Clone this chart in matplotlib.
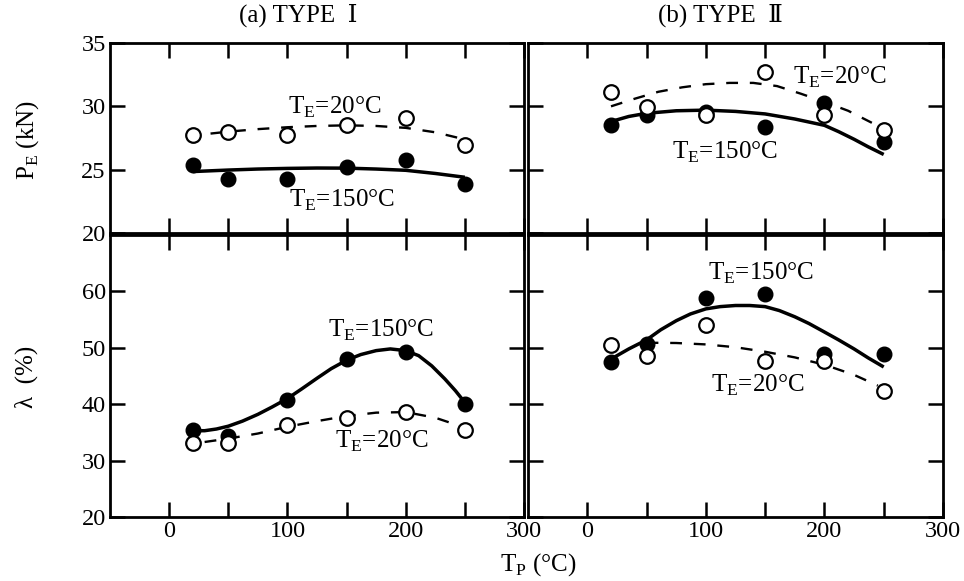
import matplotlib.pyplot as plt

plt.rcParams['font.family'] = ['Liberation Serif', 'DejaVu Serif', 'Noto Sans CJK JP']
plt.rcParams['mathtext.fontset'] = 'custom'
plt.rcParams['mathtext.rm'] = 'Liberation Serif'

# measured points, T_P (deg C)
tp = [20, 50, 100, 150, 200, 250]

# (a) TYPE I
pa_150 = [25.35, 24.3, 24.3, 25.25, 25.8, 23.85]
pa_20 = [27.75, 28.0, 27.7, 28.5, 29.05, 26.95]
la_150 = [35.5, 34.3, 40.7, 48.0, 49.2, 40.0]
la_20 = [33.2, 33.2, 36.3, 37.6, 38.6, 35.5]

# (b) TYPE II
pb_150 = [28.5, 29.3, 29.55, 28.4, 30.25, 27.2]
pb_20 = [31.15, 29.95, 29.3, 32.7, 29.3, 28.1]
lb_150 = [47.4, 50.7, 58.75, 59.6, 48.9, 48.9]
lb_20 = [50.5, 48.5, 54.0, 47.7, 47.7, 42.4]

# fitted curves
ca_p150_x = [20, 50, 75, 100, 125, 150, 175, 200, 225, 250]
ca_p150_y = [24.85, 24.97, 25.05, 25.1, 25.13, 25.12, 25.05, 24.95, 24.7, 24.4]
ca_p20_x = [35, 50, 75, 100, 125, 150, 175, 200, 225, 245]
ca_p20_y = [27.85, 28.0, 28.2, 28.35, 28.45, 28.5, 28.45, 28.3, 27.95, 27.5]
ca_l150_x = [20, 30, 40, 50, 62, 75, 87, 100, 112, 125, 137, 150, 162, 175,
             187, 200, 211, 222, 233, 242, 250]
ca_l150_y = [35.3, 35.3, 35.6, 36.1, 37.0, 38.2, 39.5, 41.0, 42.7, 44.6, 46.3,
             47.8, 48.8, 49.5, 49.8, 49.5, 48.6, 46.8, 44.5, 42.4, 40.3]
ca_l20_x = [30, 50, 75, 100, 125, 150, 175, 200, 225, 245]
ca_l20_y = [33.3, 33.9, 34.8, 36.0, 37.0, 37.9, 38.5, 38.6, 37.6, 36.2]

cb_p150_x = [20, 35, 50, 75, 100, 125, 150, 175, 200, 212, 225, 237, 250]
cb_p150_y = [28.8, 29.2, 29.45, 29.65, 29.7, 29.6, 29.4, 29.0, 28.5, 28.0,
             27.4, 26.8, 26.2]
cb_p20_x = [20, 40, 60, 80, 100, 120, 140, 160, 180, 200, 220, 240]
cb_p20_y = [30.0, 30.6, 31.15, 31.5, 31.75, 31.85, 31.85, 31.6, 31.0, 30.35, 29.65, 28.7]
cb_l150_x = [20, 35, 50, 62, 75, 87, 100, 112, 125, 137, 150, 162, 175, 187,
             200, 212, 225, 237, 250]
cb_l150_y = [48.0, 49.8, 51.4, 53.2, 54.8, 56.0, 56.9, 57.3, 57.5, 57.5, 57.3,
             56.6, 55.5, 54.3, 52.8, 51.4, 49.8, 48.2, 46.6]
cb_l20_x = [50, 75, 100, 125, 150, 175, 200, 225, 245]
cb_l20_y = [50.9, 50.85, 50.6, 50.1, 49.3, 48.3, 47.0, 45.2, 43.3]

lab150 = 'T$_\\mathrm{E}$=150°C'
lab20 = 'T$_\\mathrm{E}$=20°C'

fig = plt.figure(figsize=(9.64, 5.81), dpi=100)
W, H = 964.0, 581.0


def box(x0, y0, x1, y1):
    return [x0 / W, 1 - y1 / H, (x1 - x0) / W, (y1 - y0) / H]


ax_pa = fig.add_axes(box(110, 43, 524, 233))
ax_pb = fig.add_axes(box(528, 43, 943, 233))
ax_la = fig.add_axes(box(110, 235, 524, 517))
ax_lb = fig.add_axes(box(528, 235, 943, 517))


def style(ax, yticks, ylim, xlabels, ylabels):
    ax.set_xlim(-50, 300)
    ax.set_ylim(*ylim)
    ax.set_xticks([0, 50, 100, 150, 200, 250, 300])
    ax.set_yticks(yticks)
    if xlabels:
        ax.set_xticklabels(['0', '', '100', '', '200', '', '300'])
    else:
        ax.set_xticklabels([])
    if ylabels:
        ax.set_yticklabels([str(v) for v in yticks])
    else:
        ax.set_yticklabels([])
    ax.tick_params(direction='in', length=11, width=1.8, top=True, right=True,
                   labelsize=17.5, pad=3)
    for s in ax.spines.values():
        s.set_linewidth(2.0)


def points(ax, y150, y20):
    ax.plot(tp, y150, 'o', ms=10.5, mfc='black', mec='black', zorder=3)
    ax.plot(tp, y20, 'o', ms=10.5, mfc='white', mec='black', mew=1.6, zorder=4)


def curves(ax, x150, y150, x20, y20):
    ax.plot(x150, y150, '-', color='black', lw=2.5, solid_capstyle='butt',
            solid_joinstyle='round', zorder=2)
    ax.plot(x20, y20, '--', color='black', lw=1.7, dashes=(5, 5), zorder=2)


# top row: P_E
style(ax_pa, [20, 25, 30, 35], (20, 35), False, True)
style(ax_pb, [20, 25, 30, 35], (20, 35), False, False)
curves(ax_pa, ca_p150_x, ca_p150_y, ca_p20_x, ca_p20_y)
points(ax_pa, pa_150, pa_20)
curves(ax_pb, cb_p150_x, cb_p150_y, cb_p20_x, cb_p20_y)
points(ax_pb, pb_150, pb_20)

# bottom row: lambda
style(ax_la, [20, 30, 40, 50, 60], (20, 70), True, True)
style(ax_lb, [20, 30, 40, 50, 60], (20, 70), True, False)
curves(ax_la, ca_l150_x, ca_l150_y, ca_l20_x, ca_l20_y)
points(ax_la, la_150, la_20)
curves(ax_lb, cb_l150_x, cb_l150_y, cb_l20_x, cb_l20_y)
points(ax_lb, lb_150, lb_20)

fs = 18
ax_pa.text(140, 29.9, lab20, ha='center', va='center', fontsize=fs)
ax_pa.text(146, 22.6, lab150, ha='center', va='center', fontsize=fs)
ax_pb.text(213, 32.3, lab20, ha='center', va='center', fontsize=fs)
ax_pb.text(116, 26.4, lab150, ha='center', va='center', fontsize=fs)
ax_la.text(179, 53.1, lab150, ha='center', va='center', fontsize=fs)
ax_la.text(180, 33.4, lab20, ha='center', va='center', fontsize=fs)
ax_lb.text(146, 63.2, lab150, ha='center', va='center', fontsize=fs)
ax_lb.text(144, 43.3, lab20, ha='center', va='center', fontsize=fs)

fig.text(298 / W, 1 - 15 / H, '(a) TYPE  Ⅰ', ha='center', va='center', fontsize=18)
fig.text(720 / W, 1 - 15 / H, '(b) TYPE  Ⅱ', ha='center', va='center', fontsize=18)
fig.text(28 / W, 1 - 140 / H, 'P$_\\mathrm{E}$ (kN)', ha='center', va='center',
         rotation=90, fontsize=18)
fig.text(26 / W, 1 - 377 / H, 'λ  (%)', ha='center', va='center',
         rotation=90, fontsize=18)
fig.text(538 / W, 1 - 565 / H, 'T$_\\mathrm{P}$ (°C)', ha='center', va='center',
         fontsize=18)

fig.savefig('out.png', dpi=100)
